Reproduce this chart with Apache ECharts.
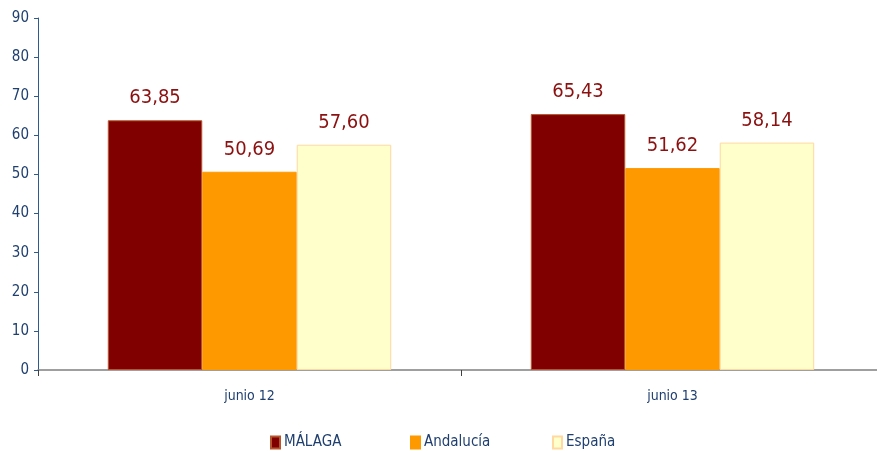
<!DOCTYPE html>
<html>
<head>
<meta charset="utf-8">
<script src="https://cdn.jsdelivr.net/npm/echarts@6/dist/echarts.min.js"></script>
<style>
  html, body { margin: 0; padding: 0; background: #ffffff; }
  #chart { width: 877px; height: 451px; }
</style>
</head>
<body>
<div id="chart"></div>
<script>
// Periods on the category axis
const categories = ['junio 12', 'junio 13'];
// Series names
const seriesNames = ['MÁLAGA', 'Andalucía', 'España'];
// Values per area
const malaga = [63.85, 65.43];
const andalucia = [50.69, 51.62];
const espana = [57.60, 58.14];
// Value axis ticks
const yTicks = [0, 10, 20, 30, 40, 50, 60, 70, 80, 90];

const narrow = '"DejaVu Sans Condensed", "Liberation Sans Narrow", sans-serif';
const axisBlue = '#1F3F6F';
const legendLefts = [265, 405, 547];

function fmt(v) { return v.toFixed(2).replace('.', ','); }

function barSeries(name, data, color, border) {
  return {
    name: name,
    type: 'bar',
    data: data,
    barGap: '0%',
    barCategoryGap: '33%',
    itemStyle: { color: color, borderColor: border, borderWidth: 1 },
    label: {
      show: true,
      position: 'top',
      distance: 12,
      formatter: p => fmt(p.value),
      color: '#8B1010',
      fontFamily: narrow,
      fontSize: 20
    }
  };
}

// One legend block per series so each entry sits at its own spot
const legends = seriesNames.map((n, i) => ({
  top: 430,
  left: legendLefts[i],
  itemWidth: 9,
  itemHeight: 12,
  icon: 'rect',
  textStyle: { color: axisBlue, fontFamily: narrow, fontSize: 15, padding: [0, 0, 0, -1] },
  data: [n]
}));

const chart = echarts.init(document.getElementById('chart'));
chart.setOption({
  animation: false,
  backgroundColor: '#ffffff',
  grid: { left: 38, top: 18, width: 846, height: 352, containLabel: false, outerBoundsMode: 'none' },
  legend: legends,
  xAxis: {
    type: 'category',
    data: categories,
    axisLine: { lineStyle: { color: '#808080', width: 1.5 } },
    axisTick: { show: true, length: 6, lineStyle: { color: '#404040' } },
    axisLabel: { color: axisBlue, fontFamily: narrow, fontSize: 14, margin: 19 }
  },
  yAxis: {
    type: 'value',
    min: 0,
    max: yTicks[yTicks.length - 1],
    interval: yTicks[1] - yTicks[0],
    axisLine: { show: true, lineStyle: { color: '#2F5A8F', width: 1 } },
    axisTick: { show: true, length: 4, lineStyle: { color: '#2F5A8F' } },
    splitLine: { show: false },
    axisLabel: { color: axisBlue, fontFamily: narrow, fontSize: 15, margin: 9 }
  },
  series: [
    barSeries(seriesNames[0], malaga, '#800000', '#B5562E'),
    barSeries(seriesNames[1], andalucia, '#FF9900', '#FF9900'),
    barSeries(seriesNames[2], espana, '#FFFFCC', '#FFD9A0')
  ]
});
</script>
</body>
</html>
